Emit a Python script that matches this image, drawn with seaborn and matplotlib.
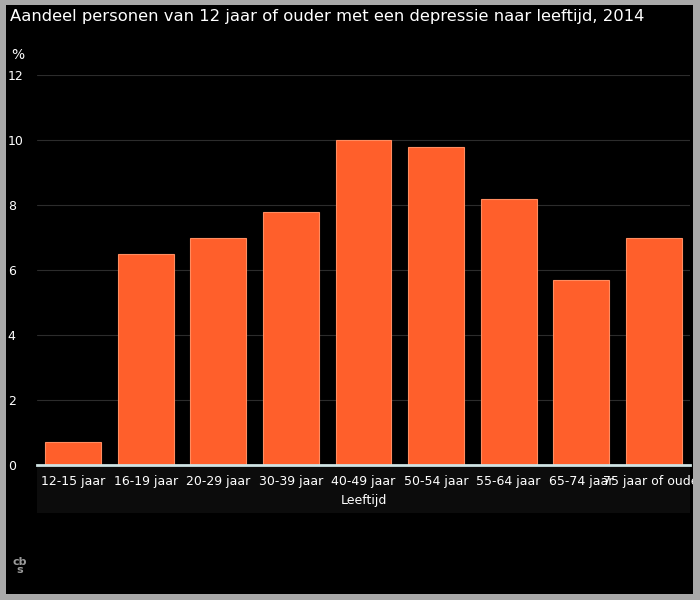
import matplotlib
matplotlib.use("Agg")
import matplotlib.pyplot as plt
import seaborn as sns
import pandas as pd
from matplotlib.patches import Rectangle

categories = ["12-15 jaar", "16-19 jaar", "20-29 jaar", "30-39 jaar", "40-49 jaar",
              "50-54 jaar", "55-64 jaar", "65-74 jaar", "75 jaar of ouder"]
values = [0.7, 6.5, 7.0, 7.8, 10.0, 9.8, 8.2, 5.7, 7.0]
yticks = [0, 2, 4, 6, 8, 10, 12]

sns.set_theme(style="dark")
plt.rcParams['font.family'] = ['DejaVu Sans']

df = pd.DataFrame({"Leeftijd": categories, "pct": values})

W, H = 700, 600
fig = plt.figure(figsize=(7, 6), dpi=100, facecolor="black")
ax = fig.add_axes([37 / W, 1 - 465 / H, (690 - 37) / W, (465 - 75) / H])
ax.set_facecolor("black")
ax.set_zorder(2)

# band behind x labels
fig.patches.append(Rectangle((37 / W, 1 - 513 / H), (690 - 37) / W, (513 - 467) / H,
                             transform=fig.transFigure, facecolor="#0c0c0c",
                             edgecolor="none", zorder=0))

sns.barplot(data=df, x="Leeftijd", y="pct", color="#ff5f2b", saturation=1,
            width=0.77, edgecolor="#ff8c60", linewidth=0.8, ax=ax, zorder=3)

ax.set_xlim(-0.5, len(categories) - 0.5)
ax.set_ylim(0, 12)
ax.set_yticks(yticks)
ax.set_yticklabels([str(t) for t in yticks])
ax.grid(axis="y", color="#2c2c2c", linewidth=0.8, zorder=0)
ax.grid(axis="x", visible=False)
for s in ["left", "right", "top"]:
    ax.spines[s].set_visible(False)
ax.spines["bottom"].set_color("#d0e4e4")
ax.spines["bottom"].set_linewidth(2)
ax.spines["bottom"].set_zorder(5)

ax.tick_params(axis="y", length=0, pad=21, labelsize=9, labelcolor="white")
for lbl in ax.get_yticklabels():
    lbl.set_horizontalalignment("left")
ax.tick_params(axis="x", length=0, pad=7.5, labelsize=9, labelcolor="white")
ax.set_xlabel("Leeftijd", color="white", fontsize=9, labelpad=4)
ax.set_ylabel("")

fig.text(10 / W, 1 - 17 / H, "Aandeel personen van 12 jaar of ouder met een depressie naar leeftijd, 2014",
         color="white", fontsize=11.8, ha="left", va="center")
fig.text(11 / W, 1 - 55 / H, "%", color="white", fontsize=10, ha="left", va="center")
fig.text(20 / W, 1 - 566 / H, "cb\ns", color="#9a9a9a", fontsize=8, ha="center", va="center",
         fontweight="bold", linespacing=0.8)

# gray frame
frame_c = "#a9a9a9"
for rect in [(0, 0, 6 / W, 1), (1 - 7 / W, 0, 7 / W, 1), (0, 1 - 5 / H, 1, 5 / H), (0, 0, 1, 6 / H)]:
    fig.patches.append(Rectangle((rect[0], rect[1]), rect[2], rect[3], transform=fig.transFigure,
                                 facecolor=frame_c, edgecolor="none", zorder=10))

fig.savefig("out.png", dpi=100, facecolor="black")
